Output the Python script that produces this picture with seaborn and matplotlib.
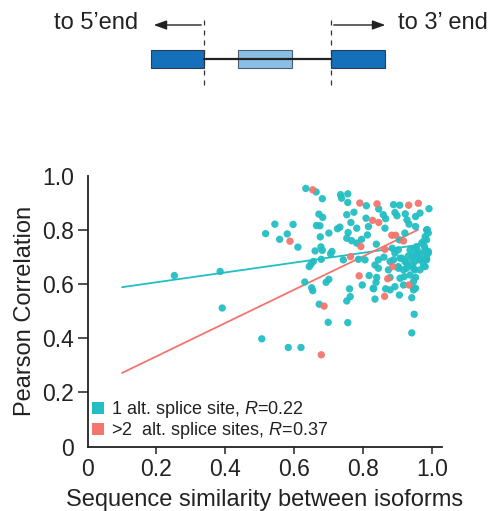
import matplotlib
matplotlib.use("Agg")
import matplotlib.pyplot as plt
from matplotlib.patches import Rectangle, FancyArrowPatch
from matplotlib.lines import Line2D
import pandas as pd
import seaborn as sns

# ---- data -------------------------------------------------------------
# isoform pairs differing by a single alternative splice site
one_site_x = [
    0.252, 0.385, 0.391, 0.506,
    0.634, 0.664, 0.682, 0.735, 0.738, 0.672, 0.683, 0.544, 0.597, 0.665,
    0.675, 0.517, 0.580, 0.558, 0.676, 0.701, 0.726, 0.733, 0.611, 0.678,
    0.682, 0.661, 0.710, 0.706, 0.656, 0.649, 0.679, 0.644, 0.743,
    0.631, 0.651, 0.654, 0.693, 0.701, 0.673, 0.699, 0.583, 0.620,
    0.756, 0.756, 0.810, 0.846, 0.889, 0.907, 0.992, 0.966, 0.953, 0.774,
    0.753, 0.809, 0.765, 0.859, 0.866, 0.864, 0.893, 0.899, 0.923, 0.928,
    0.934, 0.953, 0.987, 0.782, 0.816, 0.813, 0.757, 0.753, 0.767, 0.782,
    0.796, 0.922, 0.906, 0.981, 0.985, 0.971, 0.979, 0.956, 0.961, 0.937,
    0.839, 0.885, 0.903, 0.932, 0.947, 0.971, 0.990, 0.985, 0.966, 0.951,
    0.942, 0.922, 0.908, 0.889, 0.861, 0.845, 0.835, 0.806, 0.787, 0.845,
    0.874, 0.903, 0.927, 0.951, 0.981,
    0.818, 0.840, 0.838, 0.798, 0.831, 0.761, 0.763, 0.753, 0.835, 0.879,
    0.908, 0.920, 0.953, 0.866, 0.879, 0.906, 0.947, 0.953, 0.942, 0.949,
    0.942, 0.756,
    0.951, 0.976, 0.981, 0.990, 0.956, 0.942, 0.966, 0.985, 0.976, 0.927,
    0.913, 0.893, 0.947, 0.966, 0.937, 0.918, 0.903, 0.879, 0.947, 0.918,
    0.893, 0.947, 0.830, 0.990, 0.985,
]
one_site_y = [
    0.632, 0.647, 0.512, 0.398,
    0.954, 0.941, 0.916, 0.931, 0.918, 0.859, 0.847, 0.822, 0.821, 0.817,
    0.816, 0.787, 0.786, 0.766, 0.775, 0.789, 0.805, 0.811, 0.737, 0.738,
    0.725, 0.723, 0.721, 0.712, 0.684, 0.674, 0.692, 0.665, 0.690,
    0.608, 0.587, 0.576, 0.607, 0.618, 0.526, 0.459, 0.366, 0.366,
    0.934, 0.902, 0.890, 0.878, 0.894, 0.892, 0.879, 0.863, 0.850, 0.866,
    0.857, 0.844, 0.828, 0.857, 0.842, 0.807, 0.865, 0.853, 0.860, 0.838,
    0.822, 0.813, 0.801, 0.807, 0.813, 0.782, 0.791, 0.770, 0.761, 0.752,
    0.766, 0.789, 0.764, 0.776, 0.764, 0.752, 0.739, 0.739, 0.721, 0.727,
    0.748, 0.733, 0.727, 0.705, 0.708, 0.708, 0.721, 0.690, 0.690, 0.684,
    0.671, 0.684, 0.696, 0.690, 0.700, 0.690, 0.671, 0.690, 0.692, 0.659,
    0.653, 0.659, 0.659, 0.653, 0.665,
    0.632, 0.625, 0.607, 0.597, 0.583, 0.583, 0.554, 0.538, 0.545, 0.625,
    0.622, 0.628, 0.625, 0.583, 0.579, 0.560, 0.587, 0.585, 0.550, 0.489,
    0.420, 0.458,
    0.733, 0.758, 0.727, 0.715, 0.708, 0.696, 0.690, 0.696, 0.671, 0.678,
    0.696, 0.715, 0.659, 0.653, 0.634, 0.653, 0.665, 0.684, 0.610, 0.597,
    0.591, 0.579, 0.585, 0.789, 0.801,
]

# isoform pairs differing by more than two alternative splice sites
multi_site_x = [
    0.654, 0.588, 0.687, 0.679,
    0.791, 0.841, 0.933, 0.961, 0.828, 0.846, 0.884, 0.895, 0.918, 0.794,
    0.864, 0.764, 0.887,
    0.789, 0.872, 0.863, 0.934,
]
multi_site_y = [
    0.949, 0.759, 0.519, 0.339,
    0.900, 0.897, 0.892, 0.899, 0.836, 0.828, 0.781, 0.781, 0.760, 0.739,
    0.729, 0.702, 0.665,
    0.631, 0.620, 0.555, 0.597,
]

# linear fits, evaluated at the ends of the fitted range
fit_x = [0.10, 0.96]
fit_one_site = [0.589, 0.745]
fit_multi_site = [0.272, 0.801]

group_labels = [
    "1 alt. splice site, $\\it{R}$=0.22",
    ">2  alt. splice sites, $\\it{R}$=0.37",
]
tick_values = [0, 0.2, 0.4, 0.6, 0.8, 1.0]
tick_labels = ["0", "0.2", "0.4", "0.6", "0.8", "1.0"]

# ---- style --------------------------------------------------------------
sns.set_theme(style="ticks")
plt.rcParams["font.family"] = ["Liberation Sans", "DejaVu Sans"]
plt.rcParams["mathtext.fontset"] = "custom"
plt.rcParams["mathtext.rm"] = "Liberation Sans"
plt.rcParams["mathtext.it"] = "Liberation Sans:italic"

CYAN = "#22BEC3"
SALMON = "#F3756D"
palette = {group_labels[0]: CYAN, group_labels[1]: SALMON}

points = pd.DataFrame({
    "similarity": one_site_x + multi_site_x,
    "correlation": one_site_y + multi_site_y,
    "group": [group_labels[0]] * len(one_site_x) + [group_labels[1]] * len(multi_site_x),
})
fits = pd.DataFrame({
    "similarity": fit_x + fit_x,
    "correlation": fit_one_site + fit_multi_site,
    "group": [group_labels[0]] * 2 + [group_labels[1]] * 2,
})

fig = plt.figure(figsize=(4.91, 5.11), dpi=100)

# ---- scatter panel ------------------------------------------------------
ax = fig.add_axes([0.1786, 0.1262, 0.721, 0.5294])
sns.scatterplot(data=points, x="similarity", y="correlation", hue="group",
                palette=palette, s=28, linewidth=0, alpha=0.95, ax=ax,
                legend=False, zorder=3)
sns.lineplot(data=fits, x="similarity", y="correlation", hue="group",
             palette=palette, linewidth=1.3, ax=ax, legend=False, zorder=2)

ax.set_xlim(0, 1.029)
ax.set_ylim(0, 1.0)
ax.set_xticks(tick_values)
ax.set_xticklabels(tick_labels)
ax.set_yticks(tick_values)
ax.set_yticklabels(tick_labels)
ax.tick_params(axis="both", labelsize=16.5, colors="#222222", width=1.1,
               length=5, pad=3)
ax.tick_params(axis="y", length=7)
for t in (ax.yaxis.get_major_ticks()[0], ax.yaxis.get_major_ticks()[-1],
          ax.xaxis.get_major_ticks()[0]):
    t.tick1line.set_visible(False)
for side in ("left", "bottom"):
    ax.spines[side].set_linewidth(1.3)
    ax.spines[side].set_color("#222222")
sns.despine(ax=ax)

ax.set_xlabel("Sequence similarity between isoforms", fontsize=17,
              color="#222222", labelpad=6)
ax.set_ylabel("Pearson Correlation", fontsize=17, color="#222222", labelpad=4)

handles = [Line2D([], [], marker="s", linestyle="none", markersize=8,
                  markerfacecolor=palette[g], markeredgewidth=0)
           for g in group_labels]
ax.legend(handles, group_labels, loc="lower left", bbox_to_anchor=(0.01, 0.02),
          frameon=False, fontsize=13, handlelength=0.7, handletextpad=0.4,
          labelspacing=0.0, borderpad=0.0, borderaxespad=0.0,
          labelcolor="#222222")

# ---- gene-structure schematic (figure pixel coordinates) -------------------
top = fig.add_axes([0, 0, 1, 1], zorder=-1)
top.set_xlim(0, 491)
top.set_ylim(511, 0)
top.axis("off")

exon_dark = "#1470BA"
exon_light = "#8BBEE5"
box_y, box_h = 50, 18
left_cut, right_cut = 204, 331

top.plot([left_cut, right_cut], [box_y + box_h / 2] * 2, color="#222222", lw=1.6)
top.add_patch(Rectangle((151, box_y), left_cut - 151, box_h, facecolor=exon_dark,
                        edgecolor="#2a3d55", lw=0.8))
top.add_patch(Rectangle((238, box_y), 54.5, box_h, facecolor=exon_light,
                        edgecolor="#4a5f75", lw=0.8))
top.add_patch(Rectangle((right_cut, box_y), 385 - right_cut, box_h,
                        facecolor=exon_dark, edgecolor="#2a3d55", lw=0.8))
for xc in (left_cut, right_cut):
    top.plot([xc, xc], [20, 90], color="#333333", lw=0.9, linestyle=(0, (4, 4)))

arrow_kw = dict(arrowstyle="-|>,head_length=0.55,head_width=0.2",
                color="#222222", lw=1.0, mutation_scale=14)
top.add_patch(FancyArrowPatch((left_cut, 25), (151, 25), **arrow_kw))
top.add_patch(FancyArrowPatch((right_cut, 25), (388, 25), **arrow_kw))
top.text(138, 23, "to 5\u2019end", ha="right", va="center", fontsize=17,
         color="#222222")
top.text(398, 23, "to 3\u2019 end", ha="left", va="center", fontsize=17,
         color="#222222")

fig.savefig("out.png", dpi=100)
